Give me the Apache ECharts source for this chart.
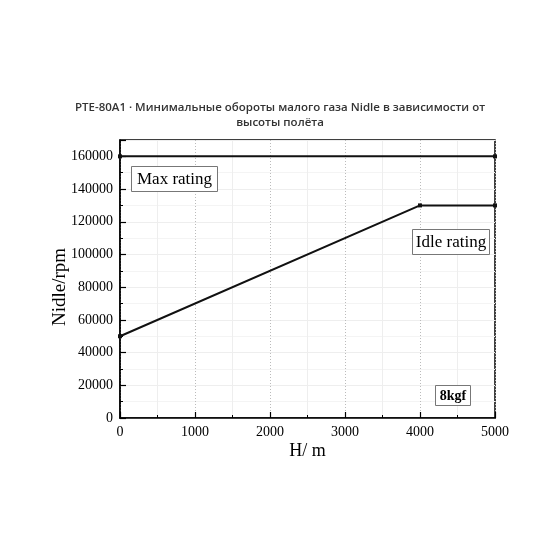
<!DOCTYPE html>
<html>
<head>
<meta charset="utf-8">
<script src="https://cdn.jsdelivr.net/npm/echarts@6/dist/echarts.min.js"></script>
<style>
  html, body { margin: 0; padding: 0; background: #fff; }
  #chart { width: 560px; height: 560px; }
</style>
</head>
<body>
<div id="chart"></div>
<script>
// высота, м
const maxHeights = [0, 5000];
const idleHeights = [0, 4000, 5000];
// обороты на максимале
const maxRpm = [160000, 160000];
// обороты малого газа
const idleRpm = [50000, 130000, 130000];
const xTicks = [0, 1000, 2000, 3000, 4000, 5000];
const yTicks = [0, 20000, 40000, 60000, 80000, 100000, 120000, 140000, 160000];

const serif = '"Liberation Serif", "Times New Roman", serif';

const chart = echarts.init(document.getElementById('chart'));

const toPairs = (xs, ys) => xs.map((x, i) => [x, ys[i]]);

// рамка с подписью поверх сетки
const labelBox = (left, top, w, h, text, font) => ({
    type: 'group', left, top, z: 100,
    children: [
        { type: 'rect', z: 100, shape: { x: 0.5, y: 0.5, width: w, height: h },
          style: { fill: '#fff', stroke: '#777', lineWidth: 1 } },
        { type: 'text', z: 101, x: w / 2 + 0.5, y: h / 2 + 1,
          style: { text, font, fill: '#000', align: 'center', verticalAlign: 'middle' } }
    ]
});

chart.setOption({
    animation: false,
    title: {
        text: 'PTE-80A1 · Минимальные обороты малого газа Nidle в зависимости от\nвысоты полёта',
        left: 'center',
        top: 95,
        textStyle: {
            fontFamily: '"Open Sans", sans-serif',
            fontSize: 11.5,
            fontWeight: 600,
            color: '#333',
            lineHeight: 15
        }
    },
    grid: {
        left: 120,
        right: 65,
        top: 140,
        bottom: 142,
        show: true,
        borderColor: '#000',
        borderWidth: 1.5
    },
    xAxis: {
        type: 'value',
        min: 0,
        max: 5000,
        interval: 1000,
        name: 'H/ m',
        nameLocation: 'middle',
        nameGap: 24,
        nameMoveOverlap: false,
        nameTextStyle: { fontFamily: serif, fontSize: 18, color: '#000' },
        axisLine: { lineStyle: { color: '#000', width: 1.5 } },
        axisTick: { inside: true, length: 6, lineStyle: { color: '#000', width: 1.2 } },
        minorTick: { show: true, splitNumber: 2, length: 3, lineStyle: { color: '#000' } },
        axisLabel: {
            fontFamily: serif, fontSize: 14, color: '#000', margin: 7,
            formatter: v => xTicks.includes(v) ? String(v) : ''
        },
        splitLine: { show: true, lineStyle: { color: '#bbb', type: [1, 2], width: 1 } },
        minorSplitLine: { show: true, lineStyle: { color: '#eee', width: 1 } }
    },
    yAxis: {
        type: 'value',
        min: 0,
        max: 170000,
        interval: 20000,
        name: 'Nidle/rpm',
        nameLocation: 'middle',
        nameGap: 50,
        nameMoveOverlap: false,
        nameTextStyle: { fontFamily: serif, fontSize: 19, color: '#000', padding: [0, 16, 0, 0] },
        axisLine: { show: true, lineStyle: { color: '#000', width: 1.5 } },
        axisTick: { show: true, inside: true, length: 6, lineStyle: { color: '#000', width: 1.2 } },
        minorTick: { show: true, splitNumber: 2, length: 3, lineStyle: { color: '#000' } },
        axisLabel: {
            fontFamily: serif, fontSize: 14, color: '#000', margin: 7,
            showMaxLabel: false,
            formatter: v => yTicks.includes(v) ? String(v) : ''
        },
        splitLine: { show: true, lineStyle: { color: '#eee', width: 1 } },
        minorSplitLine: { show: true, lineStyle: { color: '#f4f4f4', width: 1 } }
    },
    series: [
        {
            name: 'Max rating',
            type: 'line',
            data: toPairs(maxHeights, maxRpm),
            symbol: 'rect',
            symbolSize: 4,
            showSymbol: true,
            lineStyle: { color: '#111', width: 2 },
            itemStyle: { color: '#111' }
        },
        {
            name: 'Idle rating',
            type: 'line',
            data: toPairs(idleHeights, idleRpm),
            symbol: 'rect',
            symbolSize: 4,
            showSymbol: true,
            lineStyle: { color: '#111', width: 2 },
            itemStyle: { color: '#111' }
        }
    ],
    graphic: [
        labelBox(131, 166, 86, 25, 'Max rating', '17px ' + serif),
        labelBox(412, 229, 77, 25, 'Idle rating', '17px ' + serif),
        labelBox(435, 385, 35, 20, '8kgf', 'bold 14px ' + serif)
    ]
});
</script>
</body>
</html>
